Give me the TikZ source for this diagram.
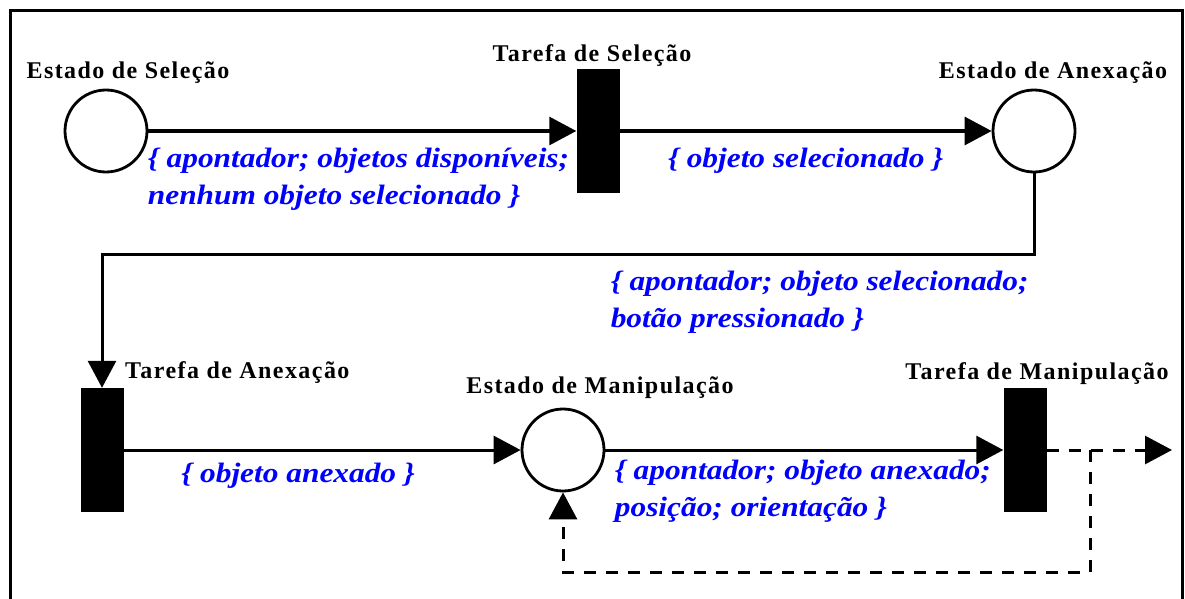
\documentclass[tikz,border=0pt]{standalone}
\usepackage{fontspec}
\setmainfont{Liberation Serif}
\newfontfamily\infofont{Liberation Serif}[FakeStretch=1.12]
\newfontfamily\tagfont{Liberation Serif}[LetterSpace=6]
\usetikzlibrary{arrows.meta, positioning}

\tikzset{
  place/.style={circle, draw, line width=2.8pt, minimum size=82pt, inner sep=0pt},
  trans/.style={rectangle, fill=black, minimum width=43pt, minimum height=124pt, inner sep=0pt},
  flow/.style={line width=3pt, -{Triangle[length=27pt,width=28pt]}},
  dflow/.style={flow, dash pattern=on 12pt off 10pt},
  tag/.style={font=\tagfont\fontsize{24}{28}\selectfont\bfseries, inner sep=2pt},
  info/.style={text=blue, font=\infofont\fontsize{28}{37}\selectfont\bfseries\itshape, align=left, inner sep=0pt},
}

\begin{document}
\begin{tikzpicture}[x=1pt, y=-1pt, on grid]
  \useasboundingbox (0,0) rectangle (1185,599);
  % frame
  \draw[line width=3pt] (10,610) -- (10,11) -- (1182,11) -- (1182,610);

  \node[place, label={[tag, xshift=22pt, yshift=3pt]above:Estado de Seleção}]      (selst) at (106,131)             {};
  \node[trans, label={[tag, xshift=-6pt, yshift=0pt]above:Tarefa de Seleção}]      (seltr) [right=492pt of selst]   {};
  \node[place, label={[tag, xshift=19pt, yshift=3pt]above:Estado de Anexação}]     (anxst) [right=436pt of seltr]   {};
  \node[trans, label={[tag, anchor=south west, xshift=21pt, yshift=2pt]above:Tarefa de Anexação}] (anxtr) [below=319pt of selst, xshift=-4pt] {};
  \node[place, label={[tag, xshift=37pt, yshift=7pt]above:Estado de Manipulação}]  (manst) [right=461pt of anxtr]   {};
  \node[trans, label={[tag, xshift=12pt, yshift=1pt]above:Tarefa de Manipulação}]  (mantr) [right=462pt of manst]   {};

  \coordinate (fork)   at (1090,450);
  \coordinate (manout) at (1172,450);

  \path[flow]
    (selst) edge node[info, pos=0, anchor=north west, xshift=-2pt, yshift=-16pt] {\{ apontador; objetos disponíveis;\\nenhum objeto selecionado \}} (seltr)
    (seltr) edge node[info, below=16pt] {\{ objeto selecionado \}} (anxst)
    (anxtr) edge node[info, below=12pt, xshift=-24pt] {\{ objeto anexado \}} (manst)
    (manst) edge node[info, pos=0, anchor=north west, xshift=8pt, yshift=-9pt] {\{ apontador; objeto anexado;\\posição; orientação \}} (mantr);

  \draw[flow] (anxst.south) -- ++(0,81)
    -| node[info, pos=0, anchor=north east, xshift=-4pt, yshift=-15pt] {\{ apontador; objeto selecionado;\\botão pressionado \}} (anxtr.north);

  \draw[dflow] (mantr) -- (manout);
  \draw[dflow] (fork) -- ++(0,122) -| (manst.south);
\end{tikzpicture}
\end{document}
